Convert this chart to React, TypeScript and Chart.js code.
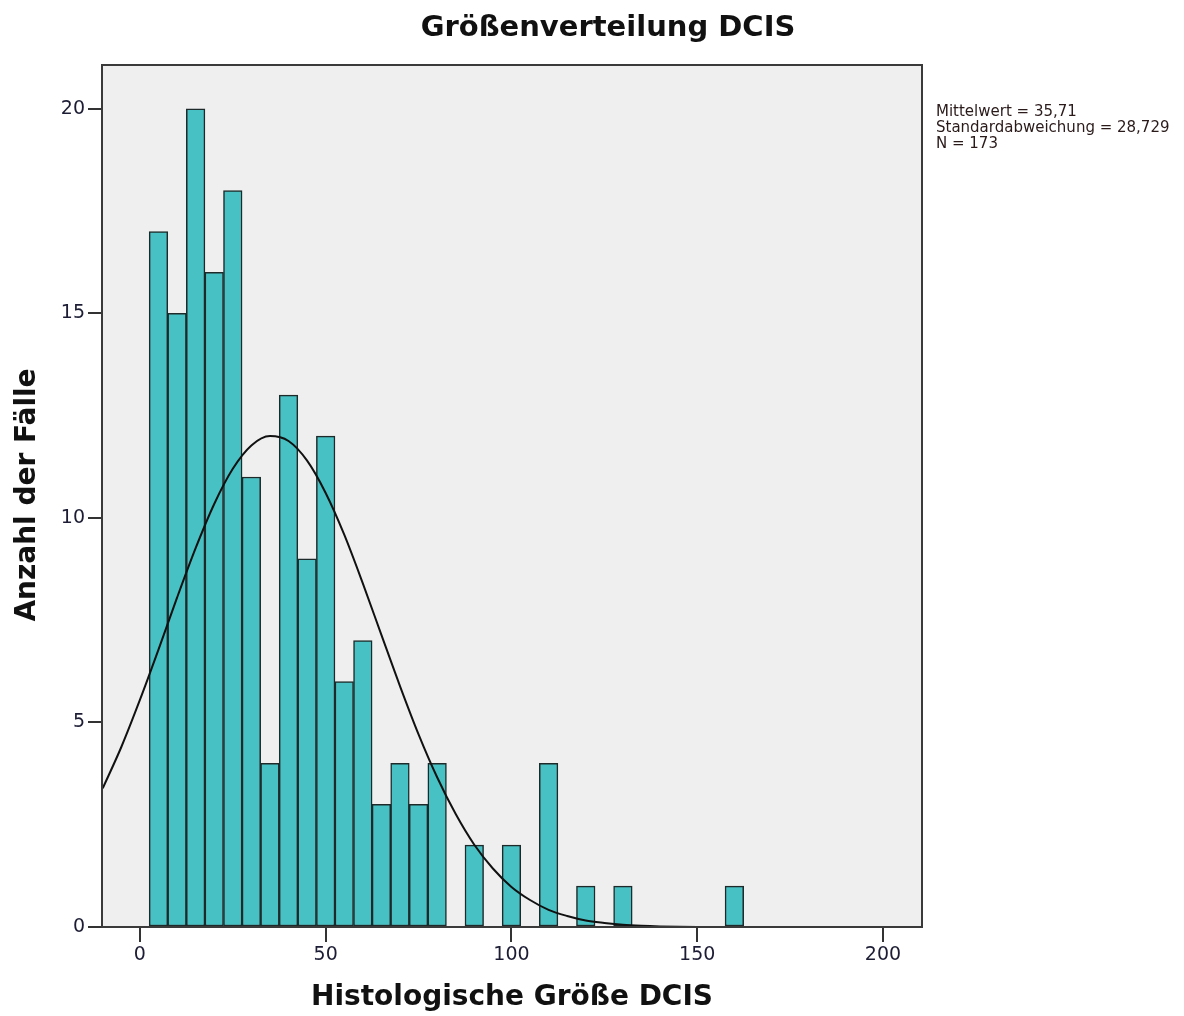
import React, { useEffect, useRef } from "react";
import { Chart, registerables } from "chart.js";

Chart.register(...registerables);

const chartTitle = "Größenverteilung DCIS";
const xAxisTitle = "Histologische Größe DCIS";
const yAxisTitle = "Anzahl der Fälle";
const statLines = ["Mittelwert = 35,71", "Standardabweichung = 28,729", "N = 173"];

// histogram bins (centres, width 5) and counts
const binCenters = [5, 10, 15, 20, 25, 30, 35, 40, 45, 50, 55, 60, 65, 70, 75, 80, 85, 90, 95, 100, 105, 110, 115, 120, 125, 130, 135, 140, 145, 150, 155, 160];
const binCounts = [17, 15, 20, 16, 18, 11, 4, 13, 9, 12, 6, 7, 3, 4, 3, 4, 0, 2, 0, 2, 0, 4, 0, 1, 0, 1, 0, 0, 0, 0, 0, 1];

// normal curve
const curveX = [-10, -5, 0, 5, 10, 15, 20, 25, 30, 35, 40, 45, 50, 55, 60, 65, 70, 75, 80, 85, 90, 95, 100, 105, 110, 115, 120, 125, 130, 135, 140, 145, 150, 155, 160];
const curveY = [3.39, 4.4, 5.55, 6.78, 8.05, 9.26, 10.34, 11.2, 11.77, 12.0, 11.88, 11.4, 10.61, 9.59, 8.4, 7.14, 5.89, 4.71, 3.66, 2.76, 2.01, 1.43, 0.98, 0.66, 0.42, 0.27, 0.16, 0.1, 0.055, 0.03, 0.015, 0.007, 0.003, 0.001, 0.0];

const xTicks = [0, 50, 100, 150, 200];
const yTicks = [0, 5, 10, 15, 20];

export default function App() {
  const ref = useRef<HTMLCanvasElement | null>(null);

  useEffect(() => {
    if (!ref.current) return;
    const frame = {
      id: "frame",
      beforeDraw(chart: any) {
        const { ctx, chartArea: a } = chart;
        ctx.save();
        ctx.fillStyle = "#ffffff";
        ctx.fillRect(0, 0, chart.width, chart.height);
        ctx.fillStyle = "#efefef";
        ctx.fillRect(a.left, a.top, a.right - a.left, a.bottom - a.top);
        ctx.restore();
      },
      afterDatasetsDraw(chart: any) {
        const { ctx, chartArea: a } = chart;
        ctx.save();
        ctx.strokeStyle = "#3a3a3a";
        ctx.lineWidth = 2;
        ctx.strokeRect(a.left, a.top, a.right - a.left, a.bottom - a.top);
        ctx.restore();
      },
      afterDraw(chart: any) {
        const { ctx, chartArea: a } = chart;
        ctx.save();
        ctx.fillStyle = "#111";
        ctx.textAlign = "center";
        ctx.textBaseline = "middle";
        ctx.font = "bold 29px 'DejaVu Sans'";
        ctx.fillText(chartTitle, 608, 28);
        ctx.font = "bold 28px 'DejaVu Sans'";
        ctx.fillText(xAxisTitle, 512, 998);
        ctx.save();
        ctx.translate(28, 495);
        ctx.rotate(-Math.PI / 2);
        ctx.fillText(yAxisTitle, 0, 0);
        ctx.restore();
        ctx.textAlign = "left";
        ctx.font = "15px 'DejaVu Sans'";
        ctx.fillStyle = "#2a1a1a";
        statLines.forEach((s, i) => ctx.fillText(s, 936, 112 + i * 16));
        ctx.restore();
      },
    };

    const chart = new Chart(ref.current, {
      type: "bar",
      data: {
        datasets: [
          {
            type: "line",
            data: curveX.map((x, i) => ({ x, y: curveY[i] })),
            borderColor: "#111111",
            borderWidth: 2,
            pointRadius: 0,
            cubicInterpolationMode: "monotone",
            fill: false,
            order: 0,
          } as any,
          {
            type: "bar",
            data: binCenters.map((x, i) => ({ x, y: binCounts[i] === 0 ? null : binCounts[i] })),
            backgroundColor: "#47c1c3",
            borderColor: "#1e2a2a",
            borderWidth: 1.5,
            borderSkipped: false,
            barPercentage: 1,
            categoryPercentage: 1,
            order: 1,
          } as any,
        ],
      },
      options: {
        responsive: false,
        animation: false,
        devicePixelRatio: 1,
        layout: { padding: { top: 65, right: 262, left: 0, bottom: 0 } },
        plugins: { legend: { display: false }, title: { display: false }, tooltip: { enabled: false } },
        scales: {
          x: {
            type: "linear",
            offset: false,
            min: -10.2,
            max: 210.5,
            afterFit: (s: any) => { s.height = 89; },
            afterBuildTicks: (s: any) => { s.ticks = xTicks.map((v) => ({ value: v })); },
            ticks: { font: { family: "DejaVu Sans", size: 19 }, color: "#1c1c34", padding: 2, maxRotation: 0, includeBounds: false },
            grid: { offset: false, drawOnChartArea: false, drawTicks: true, tickLength: 15, color: "#333", lineWidth: 2 },
            border: { display: true, color: "#3a3a3a", width: 2 },
          },
          y: {
            type: "linear",
            min: 0,
            max: 21.07,
            afterFit: (s: any) => { s.width = 102; },
            afterBuildTicks: (s: any) => { s.ticks = yTicks.map((v) => ({ value: v })); },
            ticks: { font: { family: "DejaVu Sans", size: 19 }, color: "#1c1c34", padding: 3, includeBounds: false },
            grid: { drawOnChartArea: false, drawTicks: true, tickLength: 14, color: "#333", lineWidth: 2 },
            border: { display: true, color: "#3a3a3a", width: 2 },
          },
        },
      },
      plugins: [frame],
    });
    return () => chart.destroy();
  }, []);

  return (
    <div style={{ position: "fixed", left: 0, top: 0, width: 1184, height: 1016, background: "#fff" }}>
      <canvas ref={ref} width={1184} height={1016} />
    </div>
  );
}
